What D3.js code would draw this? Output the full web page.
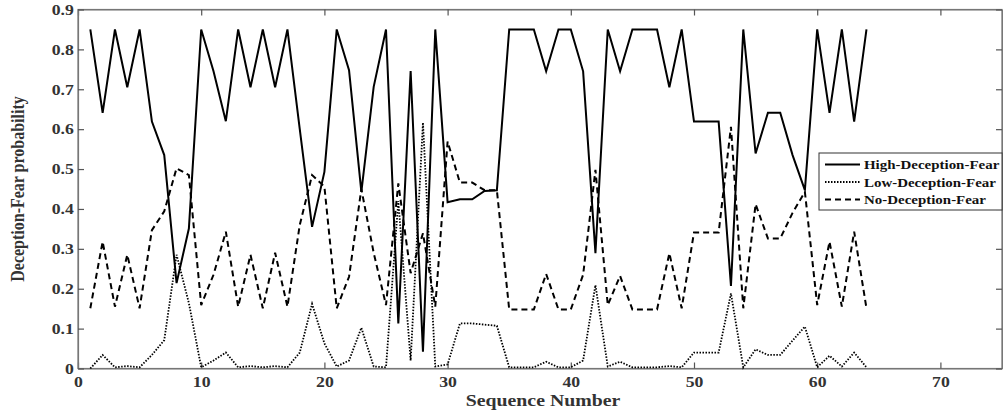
<!DOCTYPE html>
<html>
<head>
<meta charset="utf-8">
<script src="https://d3js.org/d3.v7.min.js"></script>
<style>
  body { margin: 0; background: #fff; }
  text { font-family: "Liberation Serif", "Times New Roman", serif; font-weight: bold; }
</style>
</head>
<body>
<script>
'use strict';

// sequence numbers 1..64
const seqNumbers = [1,2,3,4,5,6,7,8,9,10,11,12,13,14,15,16,17,18,19,20,21,22,23,24,25,26,27,28,29,30,31,32,
  33,34,35,36,37,38,39,40,41,42,43,44,45,46,47,48,49,50,51,52,53,54,55,56,57,58,59,60,61,62,63,64];

const highFear = [0.85,0.641,0.85,0.705,0.85,0.619,0.535,0.214,0.351,0.85,0.745,0.62,0.85,0.705,0.85,0.705,
  0.85,0.60,0.355,0.493,0.85,0.748,0.443,0.706,0.85,0.113,0.746,0.042,0.85,0.417,0.424,0.424,
  0.445,0.447,0.85,0.85,0.85,0.745,0.85,0.85,0.745,0.289,0.85,0.745,0.85,0.85,0.85,0.705,
  0.85,0.619,0.619,0.619,0.207,0.85,0.539,0.641,0.641,0.535,0.447,0.85,0.641,0.85,0.619,0.85];

const lowFear = [0.0,0.034,0.003,0.006,0.003,0.034,0.071,0.285,0.164,0.003,0.02,0.04,0.003,0.006,0.003,0.006,
  0.003,0.04,0.162,0.063,0.005,0.02,0.102,0.005,0.003,0.42,0.02,0.616,0.005,0.01,0.113,0.113,
  0.11,0.107,0.003,0.003,0.003,0.017,0.003,0.003,0.02,0.209,0.005,0.017,0.003,0.003,0.003,0.006,
  0.003,0.04,0.04,0.04,0.188,0.003,0.048,0.034,0.034,0.07,0.105,0.003,0.032,0.005,0.04,0.003];

const noFear = [0.151,0.318,0.155,0.285,0.151,0.347,0.394,0.502,0.485,0.159,0.235,0.343,0.155,0.285,0.151,0.29,
  0.155,0.36,0.485,0.456,0.151,0.23,0.45,0.29,0.159,0.464,0.239,0.339,0.155,0.569,0.466,0.466,
  0.447,0.447,0.148,0.148,0.148,0.237,0.148,0.148,0.235,0.498,0.159,0.232,0.148,0.148,0.148,0.289,
  0.151,0.341,0.341,0.341,0.606,0.151,0.412,0.326,0.326,0.39,0.443,0.159,0.318,0.155,0.343,0.151];

const seriesNames = ["High-Deception-Fear", "Low-Deception-Fear", "No-Deception-Fear"];
const xTicks = [0,10,20,30,40,50,60,70];
const yTicks = [0,0.1,0.2,0.3,0.4,0.5,0.6,0.7,0.8,0.9];

(function() {

  let svgContainer = "";
  const stretch = 1.18; // the original figure is a bit wider than tall, text looks stretched

  window.onload = function() {
    svgContainer = d3.select('body')
      .append('svg')
      .attr('width', 1003)
      .attr('height', 414);

    drawChart();
  }

  function drawChart() {
    const left = 78, right = 1002, top = 9.5, bottom = 368.5;

    let xScale = d3.scaleLinear().domain([0, 75]).range([left, right]);
    let yScale = d3.scaleLinear().domain([0, 0.9]).range([bottom, top]);

    // box around the plot
    svgContainer.append('rect')
      .attr('x', left)
      .attr('y', top)
      .attr('width', right - left)
      .attr('height', bottom - top)
      .attr('fill', 'none')
      .attr('stroke', '#777')
      .attr('stroke-width', 1.2);

    // axes, ticks pointing inward
    let xAxis = svgContainer.append('g')
      .attr('transform', 'translate(0,' + bottom + ')')
      .call(d3.axisBottom(xScale).tickValues(xTicks).tickSizeInner(-6).tickSizeOuter(0).tickPadding(7.5));
    let xAxisTop = svgContainer.append('g')
      .attr('transform', 'translate(0,' + top + ')')
      .call(d3.axisTop(xScale).tickValues(xTicks).tickSizeInner(-6).tickSizeOuter(0).tickFormat(''));
    let yAxis = svgContainer.append('g')
      .attr('transform', 'translate(' + left + ',0)')
      .call(d3.axisLeft(yScale).tickValues(yTicks).tickSizeInner(-6).tickSizeOuter(0).tickPadding(3.5)
        .tickFormat(d => d === 0 ? '0' : d3.format('.1f')(d)));
    let yAxisRight = svgContainer.append('g')
      .attr('transform', 'translate(' + right + ',0)')
      .call(d3.axisRight(yScale).tickValues(yTicks).tickSizeInner(-6).tickSizeOuter(0).tickFormat(''));

    [xAxis, xAxisTop, yAxis, yAxisRight].forEach(g => {
      g.select('.domain').attr('stroke', '#777').attr('stroke-width', 1.2);
      g.selectAll('.tick line').attr('stroke', '#555').attr('stroke-width', 1.2);
      g.selectAll('.tick text')
        .style('font-family', '"Liberation Serif", serif')
        .style('font-weight', 'bold')
        .style('font-size', '15px')
        .attr('fill', '#333')
        .attr('transform', 'scale(' + stretch + ',1)');
    });

    // the three series
    let allSeries = [highFear, lowFear, noFear];
    let dashes = [null, '1.5,1.5', '6,4'];
    let widths = [2, 1.8, 2];

    let line = d3.line()
      .x((d, i) => xScale(seqNumbers[i]))
      .y(d => yScale(d));

    allSeries.forEach((vals, k) => {
      svgContainer.append('path')
        .datum(vals)
        .attr('fill', 'none')
        .attr('stroke', '#000')
        .attr('stroke-width', widths[k])
        .attr('stroke-linejoin', 'miter')
        .attr('stroke-dasharray', dashes[k])
        .attr('d', line);
    });

    // legend
    let legend = svgContainer.append('g').attr('transform', 'translate(819,153)');
    legend.append('rect')
      .attr('width', 183)
      .attr('height', 57)
      .attr('fill', '#fff')
      .attr('stroke', '#333')
      .attr('stroke-width', 1);

    seriesNames.forEach((name, k) => {
      let yy = 11.5 + k * 17.5;
      legend.append('line')
        .attr('x1', 6)
        .attr('x2', 41)
        .attr('y1', yy)
        .attr('y2', yy)
        .attr('stroke', '#000')
        .attr('stroke-width', widths[k])
        .attr('stroke-dasharray', dashes[k]);
      legend.append('text')
        .attr('transform', 'translate(45,' + (yy + 4.5) + ')scale(1.15,1)')
        .style('font-size', '13px')
        .attr('fill', '#111')
        .text(name);
    });

    // axis titles
    svgContainer.append('text')
      .attr('transform', 'translate(' + ((left + right) / 2 + 3) + ',406)scale(1.2,1)')
      .attr('text-anchor', 'middle')
      .style('font-size', '16.5px')
      .attr('fill', '#333')
      .text('Sequence Number');

    svgContainer.append('text')
      .attr('transform', 'translate(24,' + ((top + bottom) / 2) + ')scale(' + stretch + ',1)rotate(-90)')
      .attr('text-anchor', 'middle')
      .style('font-size', '16px')
      .attr('fill', '#333')
      .text('Deception-Fear probability');
  }

})();
</script>
</body>
</html>
